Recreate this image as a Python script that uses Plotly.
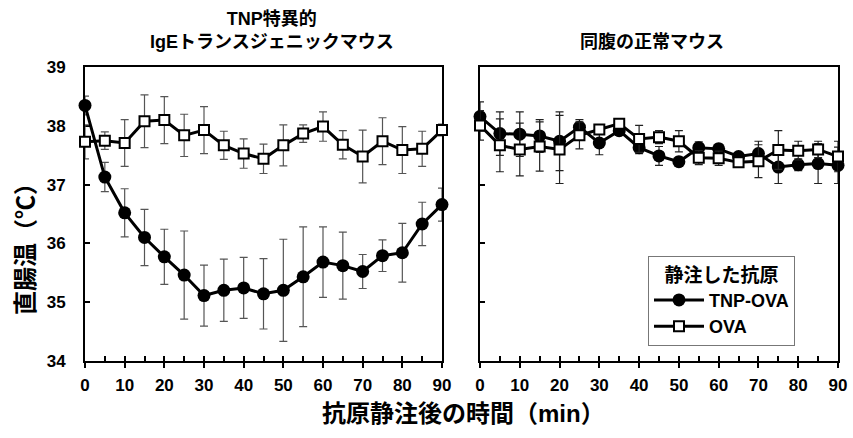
import plotly.graph_objects as go

# ---- data ----
time_min = [0, 5, 10, 15, 20, 25, 30, 35, 40, 45, 50, 55, 60, 65, 70, 75, 80, 85, 90]

tg_tnp = [38.35, 37.13, 36.52, 36.10, 35.77, 35.46, 35.11, 35.20, 35.24, 35.14,
          35.20, 35.43, 35.68, 35.62, 35.52, 35.79, 35.84, 36.33, 36.66]
tg_tnp_err = [0.16, 0.25, 0.41, 0.48, 0.47, 0.75, 0.52, 0.53, 0.52, 0.60,
              0.87, 0.85, 0.60, 0.57, 0.29, 0.27, 0.50, 0.37, 0.28]
tg_ova = [37.73, 37.75, 37.71, 38.08, 38.10, 37.84, 37.93, 37.67, 37.53, 37.44,
          37.67, 37.87, 37.99, 37.68, 37.48, 37.74, 37.59, 37.61, 37.93]
tg_ova_err = [0.29, 0.15, 0.40, 0.45, 0.40, 0.36, 0.40, 0.24, 0.25, 0.25,
              0.35, 0.15, 0.25, 0.24, 0.45, 0.40, 0.40, 0.30, 0.10]

wt_tnp = [38.16, 37.87, 37.86, 37.83, 37.74, 37.98, 37.71, 37.92, 37.63, 37.49,
          37.39, 37.63, 37.61, 37.48, 37.53, 37.30, 37.34, 37.36, 37.33]
wt_tnp_err = [0.25, 0.37, 0.38, 0.28, 0.50, 0.13, 0.20, 0.08, 0.10, 0.16,
              0.08, 0.10, 0.08, 0.06, 0.21, 0.28, 0.10, 0.34, 0.31]
wt_ova = [38.01, 37.67, 37.60, 37.65, 37.60, 37.84, 37.94, 38.04, 37.78, 37.81,
          37.74, 37.46, 37.45, 37.38, 37.40, 37.59, 37.58, 37.60, 37.48]
wt_ova_err = [0.25, 0.45, 0.45, 0.42, 0.58, 0.23, 0.08, 0.08, 0.23, 0.11,
              0.18, 0.12, 0.12, 0.06, 0.28, 0.33, 0.16, 0.14, 0.26]

x_ticks = [0, 10, 20, 30, 40, 50, 60, 70, 80, 90]
y_ticks = [34, 35, 36, 37, 38, 39]

panel_titles = ["TNP特異的<br>IgEトランスジェニックマウス", "同腹の正常マウス"]
legend_title = "静注した抗原"
series_names = ["TNP-OVA", "OVA"]
y_title = "直腸温（℃）"
x_title = "抗原静注後の時間（min）"

# ---- figure ----
W, H = 853, 438
FONT = "Liberation Sans, Arial, Noto Sans CJK JP, sans-serif"

def px_x(p):
    return p / W

def px_y(p):
    return 1 - p / H

fig = go.Figure()

def add_series(xa, ya, tnp, tnp_err, ova, ova_err, errcol, show):
    fig.add_trace(go.Scatter(
        x=time_min, y=tnp, name=series_names[0], xaxis=xa, yaxis=ya,
        mode="lines+markers", cliponaxis=False, showlegend=show,
        line=dict(color="black", width=3),
        marker=dict(symbol="circle", size=13, color="black"),
        error_y=dict(type="data", array=tnp_err, color=errcol, thickness=1.2, width=4),
    ))
    fig.add_trace(go.Scatter(
        x=time_min, y=ova, name=series_names[1], xaxis=xa, yaxis=ya,
        mode="lines+markers", cliponaxis=False, showlegend=show,
        line=dict(color="black", width=3),
        marker=dict(symbol="square", size=10, color="white",
                    line=dict(color="black", width=2)),
        error_y=dict(type="data", array=ova_err, color=errcol, thickness=1.2, width=4),
    ))

add_series("x", "y", tg_tnp, tg_tnp_err, tg_ova, tg_ova_err, "#555555", True)
add_series("x2", "y2", wt_tnp, wt_tnp_err, wt_ova, wt_ova_err, "#222222", False)

dom_y = [px_y(360.7), px_y(67.3)]
dom_x1 = [px_x(85), px_x(442)]
dom_x2 = [px_x(480), px_x(838)]

tickfont = dict(family=FONT, size=17, color="black", weight="bold")

def xaxis_cfg(dom, anchor):
    return dict(domain=dom, anchor=anchor, range=[0, 90], tickmode="array",
                tickvals=x_ticks, ticktext=[str(v) for v in x_ticks],
                ticks="outside", ticklen=5, tickwidth=2, tickcolor="black",
                showline=True, linewidth=2, linecolor="black", mirror=True,
                showgrid=False, zeroline=False, tickfont=tickfont,
                ticklabelstandoff=3,
                layer="below traces", fixedrange=True)

def xaxis_minor(over, anchor):
    return dict(overlaying=over, anchor=anchor, range=[0, 90], dtick=5, tick0=0,
                ticks="inside", ticklen=5, tickwidth=2, tickcolor="black",
                showticklabels=False, showline=False, showgrid=False,
                zeroline=False, layer="below traces", side="bottom")

def yaxis_cfg(anchor, labels):
    return dict(domain=dom_y, anchor=anchor, range=[34, 39], tickmode="array",
                tickvals=y_ticks, ticktext=[str(v) for v in y_ticks],
                ticks="inside", ticklen=5, tickwidth=2, tickcolor="black",
                showline=True, linewidth=2, linecolor="black", mirror=True,
                showgrid=False, zeroline=False, showticklabels=labels,
                tickfont=tickfont, ticklabelstandoff=14,
                layer="below traces", fixedrange=True)

fig.update_layout(
    width=W, height=H, margin=dict(l=0, r=0, t=0, b=0, autoexpand=False),
    paper_bgcolor="white", plot_bgcolor="white",
    xaxis=xaxis_cfg(dom_x1, "y"),
    xaxis2=xaxis_cfg(dom_x2, "y2"),
    xaxis3=xaxis_minor("x", "y"),
    xaxis4=xaxis_minor("x2", "y2"),
    yaxis=yaxis_cfg("x", True),
    yaxis2=yaxis_cfg("x2", False),
    legend=dict(
        x=px_x(648), y=px_y(256), xanchor="left", yanchor="top",
        bgcolor="white", bordercolor="#777777", borderwidth=1,
        font=dict(family=FONT, size=18, color="black", weight="bold"),
        title=dict(text=legend_title, side="top center",
                   font=dict(family=FONT, size=19, color="black", weight="bold")),
        itemwidth=50, tracegroupgap=0,
    ),
    font=dict(family=FONT, color="black"),
)

# invisible traces to activate the minor-tick axes
fig.add_trace(go.Scatter(x=[None], y=[None], xaxis="x3", yaxis="y", showlegend=False))
fig.add_trace(go.Scatter(x=[None], y=[None], xaxis="x4", yaxis="y2", showlegend=False))

annot_font = dict(family=FONT, size=18, color="black", weight="bold")
fig.add_annotation(text=panel_titles[0], x=px_x(272), y=px_y(30), xref="paper", yref="paper",
                   showarrow=False, font=annot_font, xanchor="center", yanchor="middle")
fig.add_annotation(text=panel_titles[1], x=px_x(652), y=px_y(42), xref="paper", yref="paper",
                   showarrow=False, font=annot_font, xanchor="center", yanchor="middle")
fig.add_annotation(text=y_title, x=px_x(25), y=px_y(243), xref="paper", yref="paper",
                   showarrow=False, textangle=-90,
                   font=dict(family=FONT, size=24, color="black", weight="bold"),
                   xanchor="center", yanchor="middle")
fig.add_annotation(text=x_title, x=px_x(463), y=px_y(413), xref="paper", yref="paper",
                   showarrow=False,
                   font=dict(family=FONT, size=24, color="black", weight="bold"),
                   xanchor="center", yanchor="middle")

fig.write_html("out.html", config={"displayModeBar": False},
               post_script="document.body.style.margin='0';")
